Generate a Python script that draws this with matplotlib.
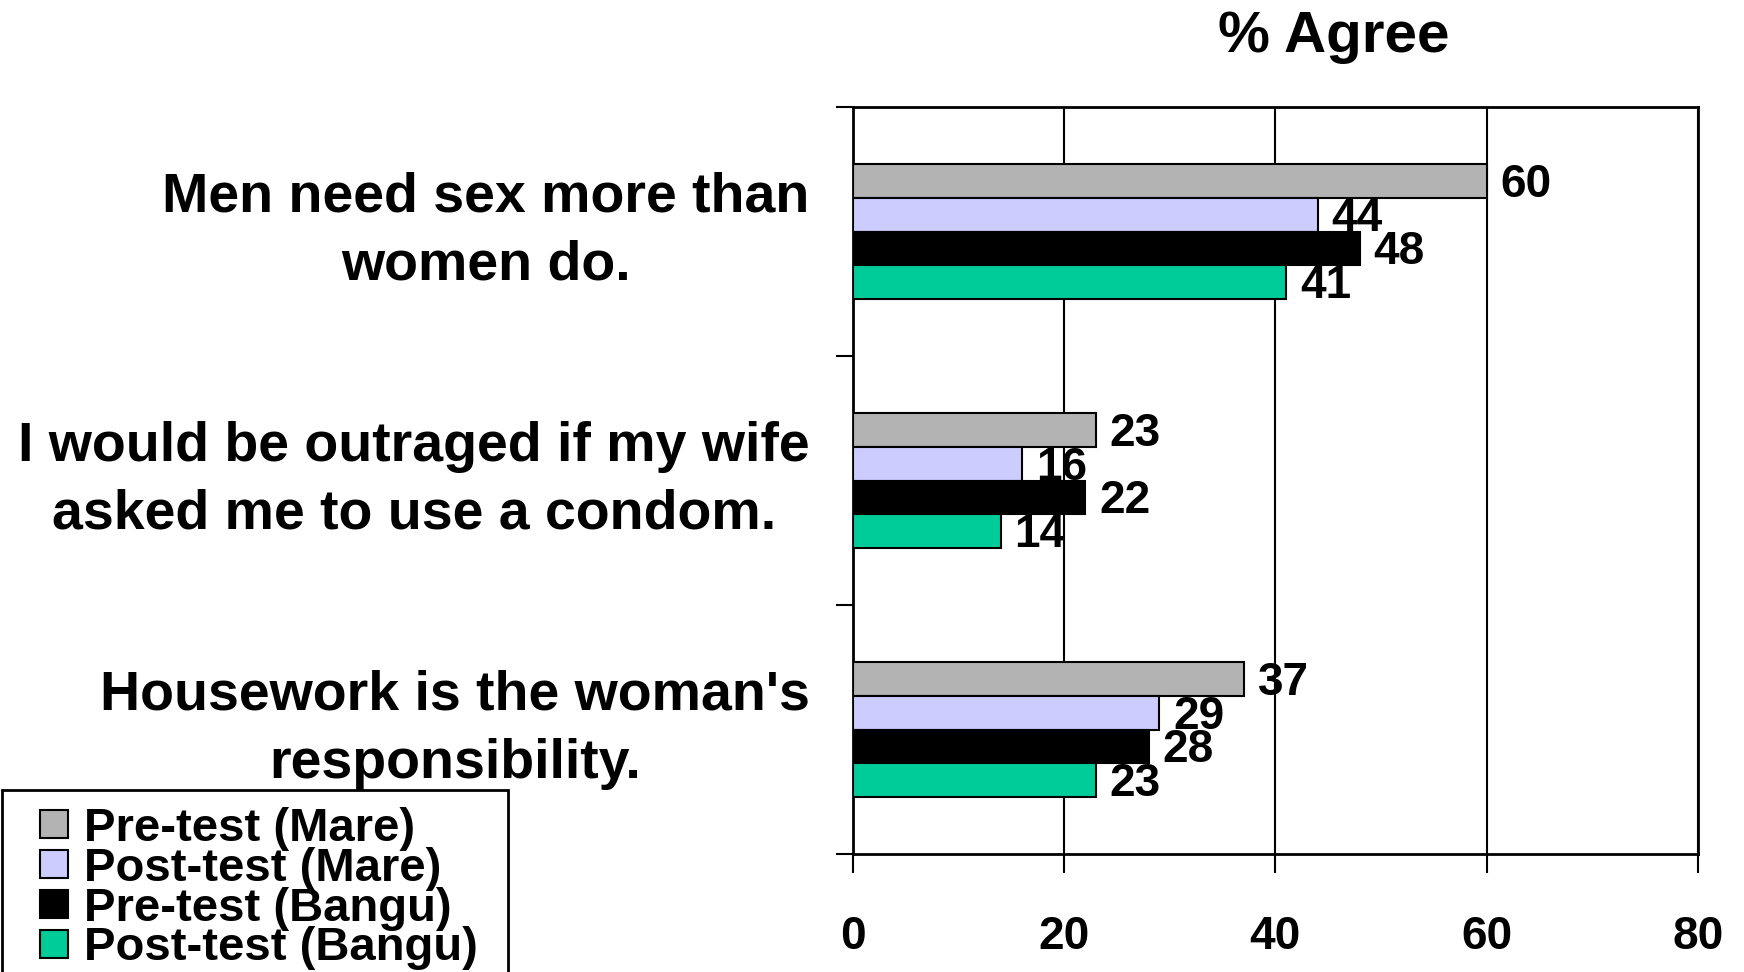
import numpy as np
import matplotlib.pyplot as plt
from matplotlib.lines import Line2D

plt.rcParams['font.family'] = ['Liberation Sans', 'DejaVu Sans']
plt.rcParams['font.weight'] = 'bold'

statements = ["Men need sex more than\nwomen do.",
              "I would be outraged if my wife\nasked me to use a condom.",
              "Housework is the woman's\nresponsibility."]
series = ["Pre-test (Mare)", "Post-test (Mare)", "Pre-test (Bangu)", "Post-test (Bangu)"]
pre_mare = [60, 23, 37]
post_mare = [44, 16, 29]
pre_bangu = [48, 22, 28]
post_bangu = [41, 14, 23]
colors = ["#B3B3B3", "#CCCCFF", "#000000", "#00CC99"]
xticks = [0, 20, 40, 60, 80]

fig = plt.figure(figsize=(17.44, 9.72), dpi=100)
ax = fig.add_axes([0.489, 0.1214, 0.4845, 0.7685])

h = 0.135
pos = np.arange(len(statements))
for i, (vals, col, name) in enumerate(zip([pre_mare, post_mare, pre_bangu, post_bangu], colors, series)):
    b = ax.barh(pos + (i - 1.5) * h, vals, height=h, color=col, edgecolor='black',
                linewidth=1.5, label=name, zorder=3)
    lbls = ax.bar_label(b, labels=[str(v) for v in vals], padding=10, fontsize=33,
                        fontweight='bold', zorder=4)
    for t in lbls:
        t.set_va('center')
        t.xyann = (t.xyann[0], t.xyann[1] - 3)  # digits sit a little low

ax.set_xlim(0, 80)
ax.set_ylim(2.5, -0.5)
ax.set_xticks(xticks)
ax.set_xticklabels([str(t) for t in xticks], fontsize=33, fontweight='bold')
ax.tick_params(axis='x', direction='out', length=14, width=1.5, pad=30)

# category boundaries as ticks, statements as minor labels
ax.set_yticks([-0.5, 0.5, 1.5, 2.5])
ax.set_yticklabels([])
ax.tick_params(axis='y', which='major', direction='out', length=12, width=1.5)
ax.set_yticks(pos, minor=True)
ax.set_yticklabels(statements, minor=True, fontsize=40, fontweight='bold',
                   multialignment='center', linespacing=1.4, va='center')
ax.tick_params(axis='y', which='minor', length=0, pad=31)
for t in ax.get_yticklabels(minor=True):
    t.set_y(t.get_position()[1])

ax.grid(axis='x', color='black', linewidth=1.5, zorder=0)
for s in ax.spines.values():
    s.set_linewidth(2)

fig.text(0.765, 0.962, "% Agree", ha='center', va='center', fontsize=42, fontweight='bold')

handles = [Line2D([], [], marker='s', linestyle='none', markersize=20,
                  markerfacecolor=c, markeredgecolor='black', markeredgewidth=1.5)
           for c in colors]
leg_top = 1 - 790 / 972
leg = fig.legend(handles, series, loc='upper left',
                 bbox_to_anchor=(2 / 1744, leg_top - 0.2, 506 / 1744, 0.2), mode='expand',
                 fontsize=34, handlelength=1.5, handletextpad=-0.12,
                 labelspacing=-0.085, borderpad=0.35, borderaxespad=0, fancybox=False,
                 edgecolor='black', framealpha=1)
leg.get_frame().set_linewidth(2)

fig.savefig("out.png", dpi=100)
